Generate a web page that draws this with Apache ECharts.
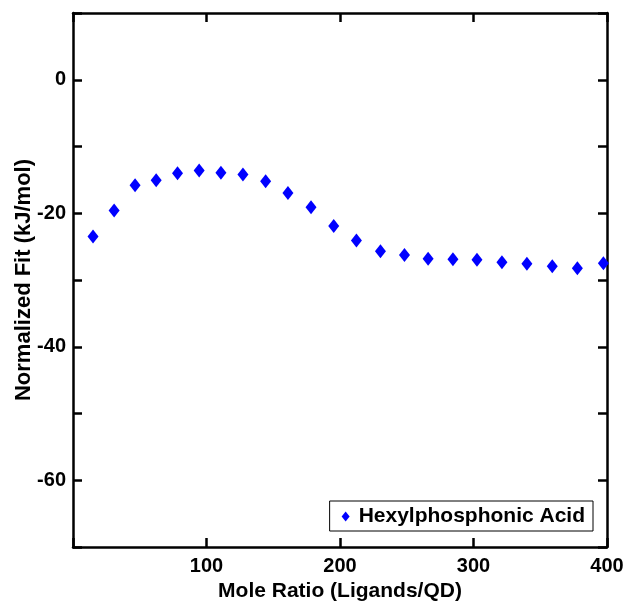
<!DOCTYPE html>
<html>
<head>
<meta charset="utf-8">
<script src="https://cdn.jsdelivr.net/npm/echarts@6/dist/echarts.min.js"></script>
<style>
  html, body { margin: 0; padding: 0; background: #fff; }
  #chart { width: 626px; height: 602px; }
</style>
</head>
<body>
<div id="chart"></div>
<script>
// Mole ratio (ligands per QD) vs normalized fit
const moleRatio = [15.0, 30.8, 46.5, 62.3, 78.3, 94.5, 110.8, 127.3, 144.3, 161.0, 178.3, 195.3,
  212.3, 230.3, 248.3, 266.0, 284.6, 302.6, 321.3, 340.0, 359.0, 377.8, 397.3];
const normalizedFit = [-23.5, -19.6, -15.8, -15.05, -14.0, -13.6, -13.95, -14.2, -15.2, -16.95, -19.1, -21.9,
  -24.1, -25.7, -26.25, -26.8, -26.9, -26.95, -27.35, -27.55, -27.95, -28.25, -27.5];
const seriesName = "Hexylphosphonic Acid";
const xTickLabels = [100, 200, 300, 400];
const yTickLabels = [0, -20, -40, -60];

const FONT = "'Liberation Sans', Arial, sans-serif";
const black = "#000";

const chart = echarts.init(document.getElementById("chart"), null, { renderer: "canvas" });

const axisCommon = {
  axisLine: { show: true, onZero: false, lineStyle: { color: black, width: 2.5 } },
  axisTick: { show: true, inside: true, length: 9, lineStyle: { color: black, width: 2.5 } },
  splitLine: { show: false },
  nameMoveOverlap: false,
};

chart.setOption({
  animation: false,
  backgroundColor: "#fff",
  grid: { left: 73, right: 19, top: 13, bottom: 55, outerBoundsMode: "none", containLabel: false },
  legend: {
    data: [seriesName],
    right: 33,
    bottom: 71,
    icon: "diamond",
    itemWidth: 8,
    itemHeight: 10,
    padding: [5, 8, 4, 12],
    borderColor: black,
    borderWidth: 1,
    textStyle: { fontFamily: FONT, fontWeight: "bold", fontSize: 21, color: black, padding: [0, 0, 0, 4] },
  },
  xAxis: [
    Object.assign({
      type: "value", min: 0, max: 400, interval: 100,
      name: "Mole Ratio (Ligands/QD)", nameLocation: "middle", nameGap: 34,
      nameTextStyle: { fontFamily: FONT, fontWeight: "bold", fontSize: 21, color: black },
      axisLabel: {
        fontFamily: FONT, fontWeight: "bold", fontSize: 20, color: black, margin: 9,
        formatter: (v) => (xTickLabels.includes(v) ? String(v) : ""),
      },
    }, axisCommon),
    Object.assign({
      type: "value", min: 0, max: 400, interval: 100, position: "top",
      axisLabel: { show: false },
    }, axisCommon),
  ],
  yAxis: [
    Object.assign({
      type: "value", min: -70, max: 10, interval: 10,
      name: "Normalized Fit (kJ/mol)", nameLocation: "middle", nameGap: 38,
      nameTextStyle: { fontFamily: FONT, fontWeight: "bold", fontSize: 22, color: black },
      axisLabel: {
        fontFamily: FONT, fontWeight: "bold", fontSize: 20, color: black, margin: 7,
        formatter: (v) => (yTickLabels.includes(v) ? String(v) : ""),
      },
    }, axisCommon),
    Object.assign({
      type: "value", min: -70, max: 10, interval: 10, position: "right",
      axisLabel: { show: false },
    }, axisCommon),
  ],
  series: [
    {
      name: seriesName,
      type: "scatter",
      symbol: "diamond",
      symbolSize: [11, 14],
      itemStyle: { color: "#0000ff", opacity: 1 },
      data: moleRatio.map((x, i) => [x, normalizedFit[i]]),
    },
  ],
});
</script>
</body>
</html>
